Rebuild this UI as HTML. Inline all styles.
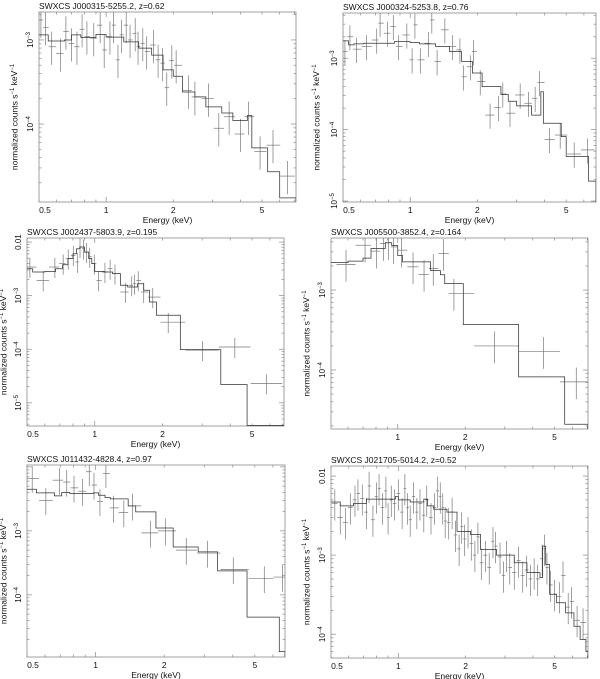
<!DOCTYPE html>
<html><head><meta charset="utf-8"><style>
html,body{margin:0;padding:0;background:#fff;}
svg{display:block;font-family:"Liberation Sans",sans-serif;}
</style></head><body>
<svg id="fig" width="600" height="679" viewBox="0 0 600 679" xmlns="http://www.w3.org/2000/svg"></svg>
<script>
// ---------- data (energies keV; values in units of *_unit) ----------
const p1_title = "SWXCS J000315-5255.2, z=0.62";
const p1_unit = 1e-3;
const p1_edges = [0.5,0.55,0.65,0.7,0.77,0.9,1.0,1.2,1.4,1.6,1.8,2.0,2.2,2.5,2.8,3.3,3.7,4.3,4.5,5.3,6.0,7.1];
const p1_model = [1.15,0.97,1.0,1.15,1.07,1.16,1.08,0.95,0.8,0.66,0.44,0.37,0.24,0.21,0.16,0.135,0.11,0.126,0.052,0.027,0.0132];
const p1_E = [0.51,0.535,0.57,0.625,0.66,0.70,0.74,0.78,0.82,0.88,0.94,0.98,1.04,1.08,1.13,1.17,1.23,1.28,1.35,1.39,1.46,1.52,1.63,1.71,1.79,1.87,1.97,2.06,2.34,2.5,2.88,3.2,3.56,4.0,4.35,4.9,5.6,6.5];
const p1_Y = [1.73,1.41,0.83,0.69,1.26,0.91,0.83,1.34,1.1,1.05,1.5,0.76,1.1,1.5,0.58,1.15,1.5,1.0,1.2,0.83,0.91,0.73,0.87,0.58,0.53,0.27,0.57,0.5,0.25,0.21,0.2,0.089,0.122,0.076,0.122,0.047,0.056,0.024];
const p1_err = 0.18;

const p2_title = "SWXCS J000324-5253.8, z=0.76";
const p2_unit = 1e-3;
const p2_edges = [0.5,0.53,0.56,0.62,0.85,1.0,1.1,1.3,1.5,1.7,1.9,2.1,2.55,2.75,3.0,3.5,3.85,3.95,4.75,5.0,6.3,6.8];
const p2_model = [1.75,1.54,1.59,1.62,1.71,1.66,1.59,1.46,1.24,0.9,0.62,0.4,0.31,0.25,0.215,0.16,0.34,0.123,0.08,0.042,0.019];
const p2_E = [0.51,0.537,0.575,0.638,0.708,0.733,0.79,0.84,0.885,0.966,1.02,1.05,1.11,1.21,1.25,1.32,1.43,1.55,1.67,1.73,1.86,1.92,2.06,2.28,2.49,2.6,2.8,3.11,3.39,3.63,3.8,4.21,4.7,5.43,6.24];
const p2_Y = [1.24,2.0,1.34,1.46,1.8,3.1,2.24,2.78,1.46,2.12,0.95,2.93,0.95,1.62,3.44,0.9,2.5,1.46,1.31,0.55,0.76,1.24,0.47,0.16,0.205,0.316,0.17,0.306,0.234,0.275,0.456,0.073,0.084,0.0456,0.052];
const p2_err = 0.16;

const p3_title = "SWXCS J002437-5803.9, z=0.195";
const p3_unit = 1e-3;
const p3_edges = [0.5,0.53,0.6,0.67,0.72,0.76,0.8,0.83,0.86,0.9,0.94,0.97,1.0,1.1,1.2,1.3,1.4,1.55,1.65,1.75,1.88,2.4,3.63,4.75,6.93];
const p3_model = [3.18,2.76,2.84,3.18,3.78,4.9,6.06,7.5,8.07,6.5,4.9,3.95,2.84,2.76,2.57,1.56,1.45,1.67,1.26,0.76,0.43,0.0986,0.022,0.0038];
const p3_E = [0.515,0.59,0.665,0.724,0.762,0.803,0.84,0.86,0.89,0.92,0.95,0.995,1.04,1.11,1.17,1.23,1.37,1.46,1.5,1.56,1.65,1.81,2.12,3.01,4.19,5.79];
const p3_Y = [3.42,1.93,3.42,3.95,4.9,5.64,4.24,8.07,7.5,6.5,5.3,3.95,1.93,2.76,3.18,2.57,1.17,1.56,1.67,1.93,1.17,0.94,0.32,0.096,0.11,0.023];
const p3_err = 0.17;

const p4_title = "SWXCS J005500-3852.4, z=0.164";
const p4_unit = 1e-3;
const p4_edges = [0.504,0.6,0.7,0.76,0.88,0.94,1.0,1.05,1.25,1.4,1.55,1.62,1.96,3.46,5.55,7.05];
const p4_model = [2.2,2.3,2.5,3.3,3.9,3.6,2.7,2.25,2.25,1.75,1.55,1.2,0.37,0.082,0.021];
const p4_E = [0.588,0.715,0.805,0.863,0.908,0.957,1.04,1.17,1.31,1.44,1.6,1.78,2.7,4.47,6.25];
const p4_Y = [2.09,3.63,3.06,3.8,3.9,3.46,3.15,1.95,1.57,1.86,2.86,0.91,0.2,0.17,0.071];
const p4_err = 0.18;

const p5_title = "SWXCS J011432-4828.4, z=0.97";
const p5_unit = 1e-3;
const p5_edges = [0.5,0.55,0.66,0.71,0.77,0.98,1.03,1.1,1.16,1.39,1.5,1.84,2.19,2.82,3.43,4.62,6.4,6.78];
const p5_model = [4.48,3.93,3.52,3.98,3.83,3.93,3.6,3.32,3.16,2.46,1.98,1.11,0.56,0.47,0.237,0.045,0.013];
const p5_E = [0.527,0.605,0.694,0.747,0.804,0.877,0.938,0.984,1.045,1.11,1.2,1.33,1.45,1.74,2.03,2.5,3.1,4.02,5.5,6.6];
const p5_Y = [6.6,3.0,6.2,5.8,4.7,4.17,8.4,5.2,2.9,7.9,2.29,1.93,2.46,0.93,1.0,0.5,0.45,0.25,0.18,0.19];
const p5_err = 0.19;

const p6_title = "SWXCS J021705-5014.2, z=0.52";
const p6_unit = 1e-3;
const p6_edges = [0.5,0.55,0.63,0.72,0.97,1.0,1.13,1.3,1.35,1.44,1.65,1.83,2.1,2.33,2.75,3.3,3.76,4.3,4.42,4.56,4.75,5.1,5.6,6.1,6.5,6.9,7.05];
const p6_model = [4.7,4.2,4.5,5.1,5.5,5.0,4.7,5.1,4.2,3.8,3.5,2.0,1.83,1.18,1.0,0.8,0.6,0.52,1.3,0.76,0.32,0.25,0.186,0.126,0.086,0.061];
const p6_E = [0.52,0.55,0.58,0.61,0.64,0.66,0.69,0.72,0.74,0.77,0.80,0.82,0.85,0.88,0.90,0.93,0.96,1.0,1.04,1.07,1.10,1.13,1.17,1.21,1.25,1.3,1.34,1.4,1.45,1.5,1.54,1.58,1.62,1.68,1.74,1.8,1.87,1.92,1.98,2.05,2.12,2.2,2.27,2.35,2.45,2.55,2.65,2.72,2.85,2.95,3.05,3.15,3.3,3.45,3.6,3.75,3.9,4.05,4.2,4.4,4.5,4.62,4.8,5.0,5.25,5.45,5.75,5.95,6.3,6.7];
const p6_Y = [4.5,3.0,2.6,4.0,5.0,6.0,5.2,3.5,7.5,2.8,5.5,7.0,4.0,6.5,3.0,5.0,4.5,6.0,3.5,7.0,4.0,2.8,5.5,3.5,4.5,3.2,5.0,3.0,4.0,6.5,5.5,4.0,2.7,2.6,3.5,1.8,1.2,2.3,1.6,2.0,1.4,1.0,1.7,0.8,1.0,0.7,1.5,1.3,0.95,0.55,1.0,0.7,0.6,0.85,0.55,0.65,0.5,0.6,0.5,0.9,1.2,0.7,0.42,0.32,0.3,0.55,0.22,0.26,0.15,0.14];
const p6_err = 0.18;

// y tick decades and x tick labels
const p1_yt=[-3,-4], p2_yt=[-3,-4,-5], p3_yt=[-2,-3,-4,-5], p4_yt=[-3,-4], p5_yt=[-3,-4], p6_yt=[-2,-3,-4];
const xTickLabels=[0.5,1,2,5];

// ---------- layout ----------
const panels=[
 {id:1,title:p1_title,unit:p1_unit,edges:p1_edges,model:p1_model,E:p1_E,Y:p1_Y,err:p1_err,yt:p1_yt,x0:39,x1:296,y0:12,y1:202,xmin:0.5,xmax:7.1,ymin:1.18e-5,ymax:2.15e-3,ylx:15,show05:true},
 {id:2,title:p2_title,unit:p2_unit,edges:p2_edges,model:p2_model,E:p2_E,Y:p2_Y,err:p2_err,yt:p2_yt,x0:343,x1:596,y0:13,y1:202,xmin:0.5,xmax:6.8,ymin:0.97e-5,ymax:4.3e-3,ylx:317,show05:true},
 {id:3,title:p3_title,unit:p3_unit,edges:p3_edges,model:p3_model,E:p3_E,Y:p3_Y,err:p3_err,yt:p3_yt,x0:27,x1:284,y0:238,y1:426,xmin:0.5,xmax:6.93,ymin:3.7e-6,ymax:1.19e-2,ylx:4,show05:true},
 {id:4,title:p4_title,unit:p4_unit,edges:p4_edges,model:p4_model,E:p4_E,Y:p4_Y,err:p4_err,yt:p4_yt,x0:331,x1:588,y0:238,y1:429,xmin:0.504,xmax:7.05,ymin:1.83e-5,ymax:4.47e-3,ylx:307,show05:false},
 {id:5,title:p5_title,unit:p5_unit,edges:p5_edges,model:p5_model,E:p5_E,Y:p5_Y,err:p5_err,yt:p5_yt,x0:27,x1:285,y0:465,y1:657,xmin:0.5,xmax:6.78,ymin:1.07e-5,ymax:1.07e-2,ylx:4,show05:true},
 {id:6,title:p6_title,unit:p6_unit,edges:p6_edges,model:p6_model,E:p6_E,Y:p6_Y,err:p6_err,yt:p6_yt,x0:331,x1:588,y0:466,y1:658,xmin:0.5,xmax:7.05,ymin:5e-5,ymax:1.34e-2,ylx:307,show05:true}
];
const NS="http://www.w3.org/2000/svg";
const svg=document.getElementById('fig');
function mk(tag,attrs,parent){const e=document.createElementNS(NS,tag);for(const k in attrs)e.setAttribute(k,attrs[k]);(parent||svg).appendChild(e);return e;}
const L=Math.log10;

panels.forEach(p=>{
  const g=mk('g',{});
  
  
  const sx=e=>p.x0+(L(e)-L(p.xmin))/(L(p.xmax)-L(p.xmin))*(p.x1-p.x0);
  const sy=v=>p.y1-(L(v)-L(p.ymin))/(L(p.ymax)-L(p.ymin))*(p.y1-p.y0);
  const cid='clip'+p.id;
  const cp=mk('clipPath',{id:cid},g); mk('rect',{x:p.x0,y:p.y0,width:p.x1-p.x0,height:p.y1-p.y0},cp);

  const t=mk('text',{x:p.x0,y:p.y0-3,'font-size':'8.5',fill:'#111'},g); t.textContent=p.title;
  
  

  const fr=mk('rect',{x:p.x0,y:p.y0,width:p.x1-p.x0,height:p.y1-p.y0,fill:'none',stroke:'#8a8a8a','stroke-width':'0.8'},g);
  
  

  const tk=mk('g',{stroke:'#8a8a8a','stroke-width':'0.7'},g);
  
  
  for(let d=-1;d<=0;d++)for(let m=1;m<=9;m++){
    const e=m*Math.pow(10,d); if(e<p.xmin||e>p.xmax)continue;
    const X=sx(e), len=(m===1)?5:2.5;
    mk('line',{x1:X,y1:p.y1,x2:X,y2:p.y1-len},tk);
    mk('line',{x1:X,y1:p.y0,x2:X,y2:p.y0+len},tk);
  }
  for(let d=-7;d<=-1;d++)for(let m=1;m<=9;m++){
    const v=m*Math.pow(10,d); if(v<p.ymin||v>p.ymax)continue;
    const Y=sy(v), len=(m===1)?5:2.5;
    mk('line',{x1:p.x0,y1:Y,x2:p.x0+len,y2:Y},tk);
    mk('line',{x1:p.x1,y1:Y,x2:p.x1-len,y2:Y},tk);
  }
  xTickLabels.forEach(v=>{
    if(v===0.5&&!p.show05)return;
    const tx=mk('text',{x:sx(v)+(v===0.5?6:0),y:p.y1+11,'font-size':'8.5','text-anchor':'middle',fill:'#111'},g);
    tx.textContent=String(v);
    
    
  });
  p.yt.forEach(d=>{
    const Y=sy(Math.pow(10,d)), X=p.x0-6;
    const ty=mk('text',{x:X,y:Y,'font-size':'8','text-anchor':'middle',fill:'#111',transform:`rotate(-90 ${X} ${Y})`},g);
    
    
    if(d===-2){ty.textContent='0.01';}
    else{ty.textContent='10'; const s=mk('tspan',{dy:'-3','font-size':'6'},ty); s.textContent='\u2212'+(-d);}
  });
  const xl=mk('text',{x:(p.x0+p.x1)/2,y:p.y1+21,'font-size':'8.5','text-anchor':'middle',fill:'#111'},g);
  xl.textContent='Energy (keV)';
  
  
  const cy=(p.y0+p.y1)/2+10;
  const yl=mk('text',{x:p.ylx,y:cy,'font-size':'8.5','text-anchor':'middle',fill:'#111',transform:`rotate(-90 ${p.ylx} ${cy})`,'dominant-baseline':'middle'},g);
  
  
  yl.appendChild(document.createTextNode('normalized counts s'));
  const s1=mk('tspan',{dy:'-3','font-size':'6'},yl); s1.textContent='\u22121';
  const s2=mk('tspan',{dy:'3'},yl); s2.textContent=' keV';
  const s3=mk('tspan',{dy:'-3','font-size':'6'},yl); s3.textContent='\u22121';

  const dg=mk('g',{stroke:'#777','stroke-width':'0.7','clip-path':`url(#${cid})`},g);
  
  
  const n=p.E.length;
  for(let i=0;i<n;i++){
    const e=p.E[i], v=p.Y[i]*p.unit;
    const lo=i>0?Math.sqrt(p.E[i-1]*e):e*e/Math.sqrt(e*p.E[i+1]);
    const hi=i<n-1?Math.sqrt(p.E[i+1]*e):e*e/Math.sqrt(e*p.E[i-1]);
    const cr=mk('g',{},dg);
    
    
    mk('line',{x1:sx(lo),y1:sy(v),x2:sx(hi),y2:sy(v)},cr);
    mk('line',{x1:sx(e),y1:sy(v*Math.pow(10,p.err)),x2:sx(e),y2:sy(v*Math.pow(10,-p.err*1.2))},cr);
  }
  let d='';
  for(let i=0;i<p.model.length;i++){
    const v=p.model[i]*p.unit, xa=sx(p.edges[i]), xb=sx(p.edges[i+1]), Y=sy(v);
    d+=(i===0?`M${xa},${Y}`:`L${xa},${Y}`)+`L${xb},${Y}`;
  }
  d+=`L${sx(p.edges[p.edges.length-1])},${p.y1}`;
  const mp=mk('path',{d:d,fill:'none',stroke:'#333','stroke-width':'0.75','clip-path':`url(#${cid})`},g);
  
  
});
</script>
</body></html>
